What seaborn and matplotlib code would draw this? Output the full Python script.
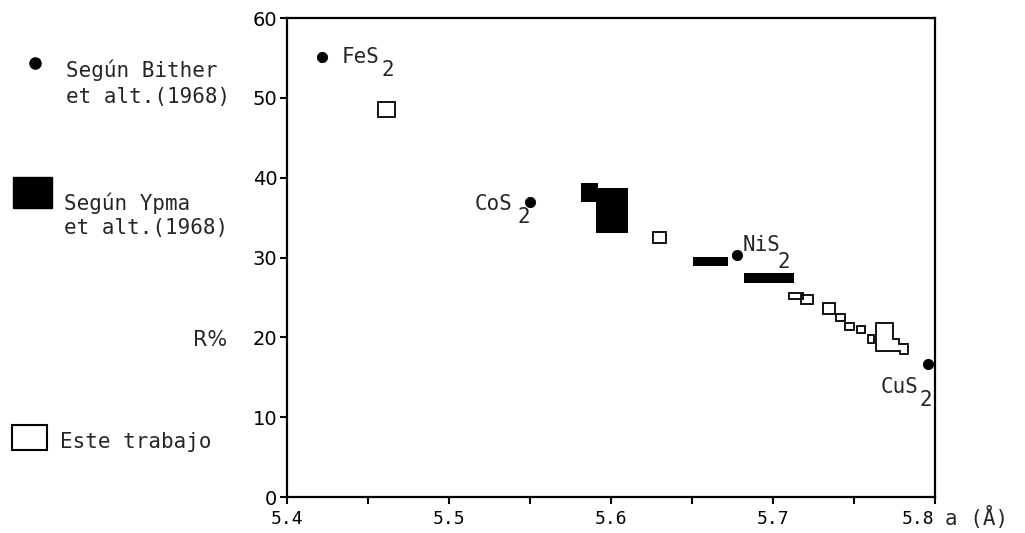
import matplotlib
matplotlib.use("Agg")
import matplotlib.pyplot as plt
import seaborn as sns
import pandas as pd
from matplotlib.patches import Rectangle
from matplotlib.lines import Line2D

# Bither et alt. (1968): filled dots
bither_a = [5.4216, 5.550, 5.678, 5.796]
bither_r = [55.1, 37.0, 30.3, 16.7]
bither_names = ["FeS", "CoS", "NiS", "CuS"]

# Ypma et alt. (1968): filled blocks (a range, R range)
ypma_a0 = [5.5815, 5.5907, 5.6506, 5.6821]
ypma_a1 = [5.5920, 5.6105, 5.6722, 5.7130]
ypma_r0 = [37.0, 33.1, 28.95, 26.8]
ypma_r1 = [39.35, 38.7, 30.1, 28.1]

# Este trabajo: open boxes
este_a0 = [5.4562, 5.626, 5.7101, 5.7171, 5.7311, 5.7389, 5.7444, 5.752, 5.7588]
este_a1 = [5.4667, 5.634, 5.7187, 5.7249, 5.7383, 5.7444, 5.750, 5.7568, 5.7623]
este_r0 = [47.6, 31.8, 24.8, 24.2, 22.9, 22.0, 20.9, 20.5, 19.3]
este_r1 = [49.5, 33.2, 25.6, 25.3, 24.3, 22.9, 21.8, 21.4, 20.3]

# irregular open area near CuS2
area_a = [5.7636, 5.7743, 5.7743, 5.778, 5.778, 5.7835, 5.7835, 5.7788, 5.7788, 5.7636]
area_r = [21.77, 21.77, 19.76, 19.76, 19.17, 19.17, 17.92, 17.92, 18.33, 18.33]

x_ticks = [5.4, 5.5, 5.6, 5.7, 5.8]
y_ticks = [0, 10, 20, 30, 40, 50, 60]

sns.set_style("ticks")
plt.rcParams["font.family"] = ["DejaVu Sans Mono", "DejaVu Sans"]

fig = plt.figure(figsize=(10.25, 5.33), dpi=100)
ax = fig.add_axes([0.280, 0.0675, 0.632, 0.8985])

df = pd.DataFrame({"a": bither_a, "R": bither_r})
sns.scatterplot(data=df, x="a", y="R", color="black", s=55, edgecolor="black", ax=ax, zorder=5)

w = [b - a for a, b in zip(ypma_a0, ypma_a1)]
h = [b - a for a, b in zip(ypma_r0, ypma_r1)]
ax.bar(ypma_a0, h, width=w, bottom=ypma_r0, align="edge", color="black", linewidth=0)

w = [b - a for a, b in zip(este_a0, este_a1)]
h = [b - a for a, b in zip(este_r0, este_r1)]
ax.bar(este_a0, h, width=w, bottom=este_r0, align="edge", fill=False,
       edgecolor="black", linewidth=1.3)
ax.fill(area_a, area_r, fill=False, edgecolor="black", linewidth=1.3)

# compound labels with big lowered subscript (offsets in points from the dot)
name_off = [(14, 0), (-40, -2), (3.6, 7), (-34.6, -17)]
sub_off = [(43, -9), (-9, -11), (29, -5), (-6, -26)]
for a, r, name, no, so in zip(bither_a, bither_r, bither_names, name_off, sub_off):
    ax.annotate(name, (a, r), xytext=no, textcoords="offset points",
                fontsize=15, va="center", ha="left")
    ax.annotate("2", (a, r), xytext=so, textcoords="offset points",
                fontsize=15, va="center", ha="left")

ax.set_xlim(5.4, 5.8)
ax.set_ylim(0, 60)
ax.set_xticks(x_ticks)
ax.set_xticks([5.45, 5.55, 5.65, 5.75], minor=True)
ax.set_yticks(y_ticks)
ax.set_xticklabels([str(t) for t in x_ticks], fontsize=13)
ax.get_xticklabels()[-1].set_horizontalalignment("right")
ax.set_yticklabels([str(t) for t in y_ticks], fontsize=14, family="DejaVu Sans")
ax.tick_params(which="both", direction="out", length=5, width=1.5, colors="black", pad=2)
ax.tick_params(axis="x", pad=4)
ax.set_xlabel("")
ax.set_ylabel("")
for s in ax.spines.values():
    s.set_linewidth(1.6)
    s.set_color("black")

W, H = 1025, 533
def fx(px):
    return px / W
def fy(py):
    return 1 - py / H

fig.text(fx(193), fy(340), "R%", fontsize=15, va="center", ha="left", family="DejaVu Sans")
fig.text(fx(945), fy(518), "a (Å)", fontsize=15, va="center", ha="left")

# legend on the left
fig.add_artist(Line2D([fx(35)], [fy(63)], marker="o", color="black", markersize=8,
                      transform=fig.transFigure))
fig.text(fx(66), fy(70), "Según Bither", fontsize=15, va="center")
fig.text(fx(66), fy(97), "et alt.(1968)", fontsize=15, va="center")
fig.add_artist(Rectangle((fx(13), fy(208)), fx(39), 31 / H, color="black",
                         transform=fig.transFigure))
fig.text(fx(64), fy(203), "Según Ypma", fontsize=15, va="center")
fig.text(fx(64), fy(228), "et alt.(1968)", fontsize=15, va="center")
fig.add_artist(Rectangle((fx(12), fy(450)), fx(35), 25 / H, fill=False,
                         edgecolor="black", linewidth=1.5, transform=fig.transFigure))
fig.text(fx(60), fy(442), "Este trabajo", fontsize=15, va="center")

fig.savefig("out.png", dpi=100)
plt.close()
